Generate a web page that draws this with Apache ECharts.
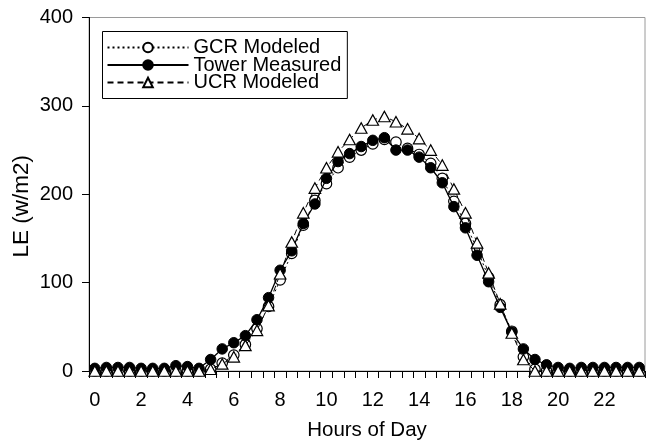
<!DOCTYPE html>
<html>
<head>
<meta charset="utf-8">
<script src="https://cdn.jsdelivr.net/npm/echarts@6/dist/echarts.min.js"></script>
<style>
  html, body { margin: 0; padding: 0; background: #fff; }
  #chart { width: 649px; height: 440px; }
</style>
</head>
<body>
<div id="chart"></div>
<script>
// Half-hourly time slots (hours of day)
const hours = [
  '0', '0.5', '1', '1.5', '2', '2.5', '3', '3.5', '4', '4.5', '5', '5.5',
  '6', '6.5', '7', '7.5', '8', '8.5', '9', '9.5', '10', '10.5', '11', '11.5',
  '12', '12.5', '13', '13.5', '14', '14.5', '15', '15.5', '16', '16.5', '17', '17.5',
  '18', '18.5', '19', '19.5', '20', '20.5', '21', '21.5', '22', '22.5', '23', '23.5'
];

// Latent heat flux, W/m2
const gcrModeled = [
  0, 0, 0, 0, 0, 0, 0, 0, 0, 0, 2, 9,
  18, 30, 48, 73, 103, 133, 165, 193, 212, 230, 242, 250,
  257, 262, 259, 252, 245, 235, 218, 192, 167, 138, 106, 75,
  45, 16, 2, 0, 0, 0, 0, 0, 0, 0, 0, 0
];
const towerMeasured = [
  3, 4, 4, 4, 3, 3, 3, 6, 5, 3, 13, 25,
  32, 40, 58, 83, 114, 136, 167, 189, 218, 237, 246, 254,
  261, 264, 250, 250, 242, 230, 213, 186, 162, 131, 101, 72,
  44, 25, 13, 7, 4, 3, 4, 4, 4, 4, 4, 4
];
const ucrModeled = [
  0, 0, 0, 0, 0, 0, 0, 0, 0, 0, 2, 8,
  16, 29, 46, 74, 110, 146, 179, 207, 230, 248, 262, 275,
  284, 288, 282, 274, 263, 250, 233, 206, 179, 145, 111, 76,
  43, 13, 0, 0, 0, 0, 0, 0, 0, 0, 0, 0
];

const yTicks = { min: 0, max: 400, interval: 100 };
const FONT = 'Liberation Sans, Arial, sans-serif';

const chart = echarts.init(document.getElementById('chart'), null, { renderer: 'canvas' });

chart.setOption({
  animation: false,
  backgroundColor: '#ffffff',
  textStyle: { fontFamily: FONT, color: '#000' },
  grid: {
    left: 89, right: 4, top: 17.5, bottom: 69,
    containLabel: false,
    outerBoundsMode: 'none',
    show: true, borderColor: '#9a9a9a', borderWidth: 1, backgroundColor: 'transparent'
  },
  legend: {
    orient: 'vertical',
    left: 102.5, top: 31.5,
    borderColor: '#000', borderWidth: 1,
    padding: [6, 6, 6, 4],
    itemWidth: 81, itemHeight: 12, itemGap: -2.5,
    textStyle: { fontFamily: FONT, fontSize: 20, color: '#000', lineHeight: 18 },
    data: ['GCR Modeled', 'Tower Measured', 'UCR Modeled']
  },
  xAxis: {
    type: 'category',
    data: hours,
    boundaryGap: true,
    name: 'Hours of Day',
    nameLocation: 'middle',
    nameGap: 49,
    nameMoveOverlap: false,
    nameTextStyle: { fontFamily: FONT, fontSize: 20.5, color: '#000' },
    axisLine: { show: true, lineStyle: { color: '#000', width: 1 } },
    axisTick: { show: true, interval: 0, length: 7, inside: false, lineStyle: { color: '#000' } },
    axisLabel: { interval: 3, margin: 19, fontFamily: FONT, fontSize: 20, color: '#000' },
    splitLine: { show: false }
  },
  yAxis: {
    type: 'value',
    min: yTicks.min, max: yTicks.max, interval: yTicks.interval,
    name: 'LE (w/m2)',
    nameLocation: 'middle',
    nameGap: 56,
    nameMoveOverlap: false,
    nameTextStyle: { fontFamily: FONT, fontSize: 22.5, color: '#000', padding: [0, 24, 0, 0] },
    axisLine: { show: true, lineStyle: { color: '#000', width: 1 } },
    axisTick: { show: true, length: 7, inside: false, lineStyle: { color: '#000' } },
    axisLabel: { margin: 16, fontFamily: FONT, fontSize: 20, color: '#000' },
    splitLine: { show: false }
  },
  series: [
    {
      name: 'GCR Modeled',
      type: 'line',
      data: gcrModeled,
      symbol: 'circle', symbolSize: 10.5, showAllSymbol: true,
      itemStyle: { color: '#fff', borderColor: '#000', borderWidth: 1.2 },
      lineStyle: { color: '#000', width: 1, type: [2, 3] },
      z: 2
    },
    {
      name: 'Tower Measured',
      type: 'line',
      data: towerMeasured,
      symbol: 'circle', symbolSize: 10.5, showAllSymbol: true,
      itemStyle: { color: '#000', borderColor: '#000', borderWidth: 1 },
      lineStyle: { color: '#000', width: 1.3, type: 'solid' },
      z: 3
    },
    {
      name: 'UCR Modeled',
      type: 'line',
      data: ucrModeled,
      symbol: 'triangle', symbolSize: [11.5, 10.5], showAllSymbol: true,
      itemStyle: { color: '#fff', borderColor: '#000', borderWidth: 1.2 },
      lineStyle: { color: '#000', width: 1, type: [6, 4] },
      z: 4
    }
  ]
});
</script>
</body>
</html>
